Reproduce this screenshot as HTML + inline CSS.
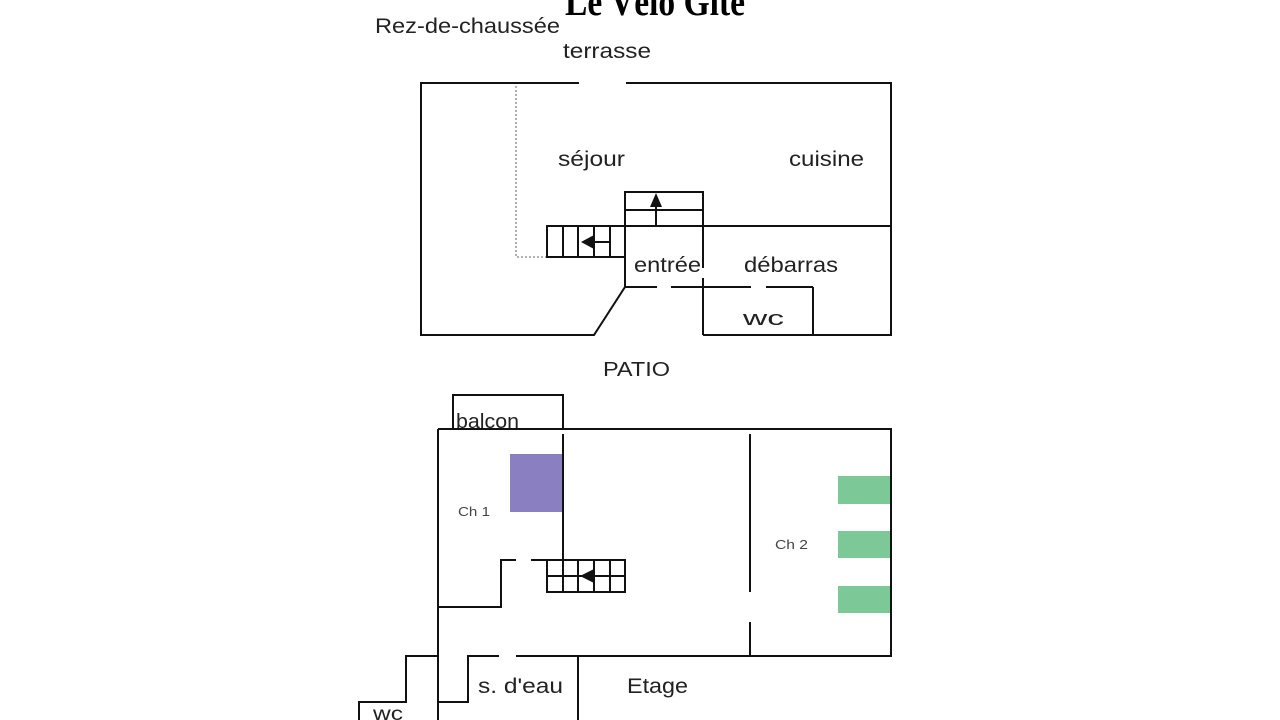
<!DOCTYPE html>
<html><head><meta charset="utf-8"><style>
html,body{margin:0;padding:0;background:#fff;width:1280px;height:720px;overflow:hidden}
svg{display:block}
text{font-family:"Liberation Sans",sans-serif;fill:#222}
</style></head><body>
<svg width="1280" height="720" viewBox="0 0 1280 720" xmlns="http://www.w3.org/2000/svg">
<g stroke="#111" stroke-width="2" fill="none">
<polyline points="579,83 421,83 421,335 594,335 625,287 657,287"/>
<polyline points="626,83 891,83 891,335 703,335"/>
<line x1="671" y1="287" x2="751" y2="287"/>
<line x1="766" y1="287" x2="813" y2="287"/>
<polyline points="703,287 703,335"/>
<polyline points="813,287 813,335"/>
<line x1="625" y1="226" x2="891" y2="226"/>
<rect x="625" y="192" width="78" height="34"/>
<line x1="625" y1="210" x2="703" y2="210"/>
<line x1="625" y1="226" x2="625" y2="287"/>
<line x1="703" y1="226" x2="703" y2="268"/>
<line x1="703" y1="278" x2="703" y2="287"/>
<line x1="656" y1="226" x2="656" y2="200"/>
<rect x="547" y="226" width="78" height="31"/>
<line x1="563" y1="226" x2="563" y2="257"/>
<line x1="578" y1="226" x2="578" y2="257"/>
<line x1="594" y1="226" x2="594" y2="257"/>
<line x1="610" y1="226" x2="610" y2="257"/>
<line x1="610" y1="242" x2="590" y2="242"/>
</g>
<polyline points="516,86 516,257 546,257" fill="none" stroke="#999" stroke-width="1.5" stroke-dasharray="2,2"/>
<polygon points="656,193 650,207 662,207" fill="#111"/>
<polygon points="581,242 594,235 594,249" fill="#111"/>
<rect x="510" y="454" width="53" height="58" fill="#897fc1"/>
<rect x="838" y="476" width="53" height="28" fill="#7cc896"/>
<rect x="838" y="531" width="53" height="27" fill="#7cc896"/>
<rect x="838" y="586" width="53" height="27" fill="#7cc896"/>
<g stroke="#111" stroke-width="2" fill="none">
<polyline points="453,429 453,395 563,395 563,429"/>
<polyline points="438,429 891,429 891,656 516,656"/>
<polyline points="499,656 468,656 468,702 438,702 438,429"/>
<polyline points="438,656 406,656 406,702 359,702 359,720"/>
<line x1="438" y1="702" x2="438" y2="720"/>
<line x1="578" y1="656" x2="578" y2="720"/>
<polyline points="438,607 501,607 501,560 516,560"/>
<line x1="531" y1="560" x2="547" y2="560"/>
<line x1="563" y1="434" x2="563" y2="560"/>
<rect x="547" y="560" width="78" height="32"/>
<line x1="547" y1="576" x2="625" y2="576"/>
<line x1="563" y1="560" x2="563" y2="592"/>
<line x1="578" y1="560" x2="578" y2="592"/>
<line x1="594" y1="560" x2="594" y2="592"/>
<line x1="610" y1="560" x2="610" y2="592"/>
<line x1="750" y1="434" x2="750" y2="592"/>
<line x1="750" y1="622" x2="750" y2="656"/>
</g>
<polygon points="580,576 594,569 594,583" fill="#111"/>
<text x="565" y="15" font-weight="bold" font-size="40" textLength="180" lengthAdjust="spacingAndGlyphs" style="font-family:'Liberation Serif',serif;fill:#000">Le Vélo Gîte</text>
<text x="375" y="33" font-size="21" textLength="185" lengthAdjust="spacingAndGlyphs">Rez-de-chaussée</text>
<text x="563" y="58" font-size="21" textLength="88" lengthAdjust="spacingAndGlyphs">terrasse</text>
<text x="558" y="166" font-size="21" textLength="67" lengthAdjust="spacingAndGlyphs">séjour</text>
<text x="789" y="166" font-size="21" textLength="75" lengthAdjust="spacingAndGlyphs">cuisine</text>
<text x="634" y="272" font-size="21" textLength="67" lengthAdjust="spacingAndGlyphs">entrée</text>
<text x="744" y="272" font-size="21" textLength="94" lengthAdjust="spacingAndGlyphs">débarras</text>
<text x="743" y="325" font-size="20" textLength="41" lengthAdjust="spacingAndGlyphs">wc</text>
<text x="603" y="376" font-size="20" textLength="67" lengthAdjust="spacingAndGlyphs">PATIO</text>
<text x="456" y="428" font-size="20" textLength="63" lengthAdjust="spacingAndGlyphs">balcon</text>
<text x="458" y="516" font-size="13" textLength="32" lengthAdjust="spacingAndGlyphs" style="fill:#444">Ch 1</text>
<text x="775" y="549" font-size="13" textLength="33" lengthAdjust="spacingAndGlyphs" style="fill:#444">Ch 2</text>
<text x="478" y="693" font-size="21" textLength="85" lengthAdjust="spacingAndGlyphs">s. d'eau</text>
<text x="627" y="693" font-size="21" textLength="61" lengthAdjust="spacingAndGlyphs">Etage</text>
<text x="373" y="720" font-size="19" textLength="30" lengthAdjust="spacingAndGlyphs">wc</text>
</svg>
</body></html>
